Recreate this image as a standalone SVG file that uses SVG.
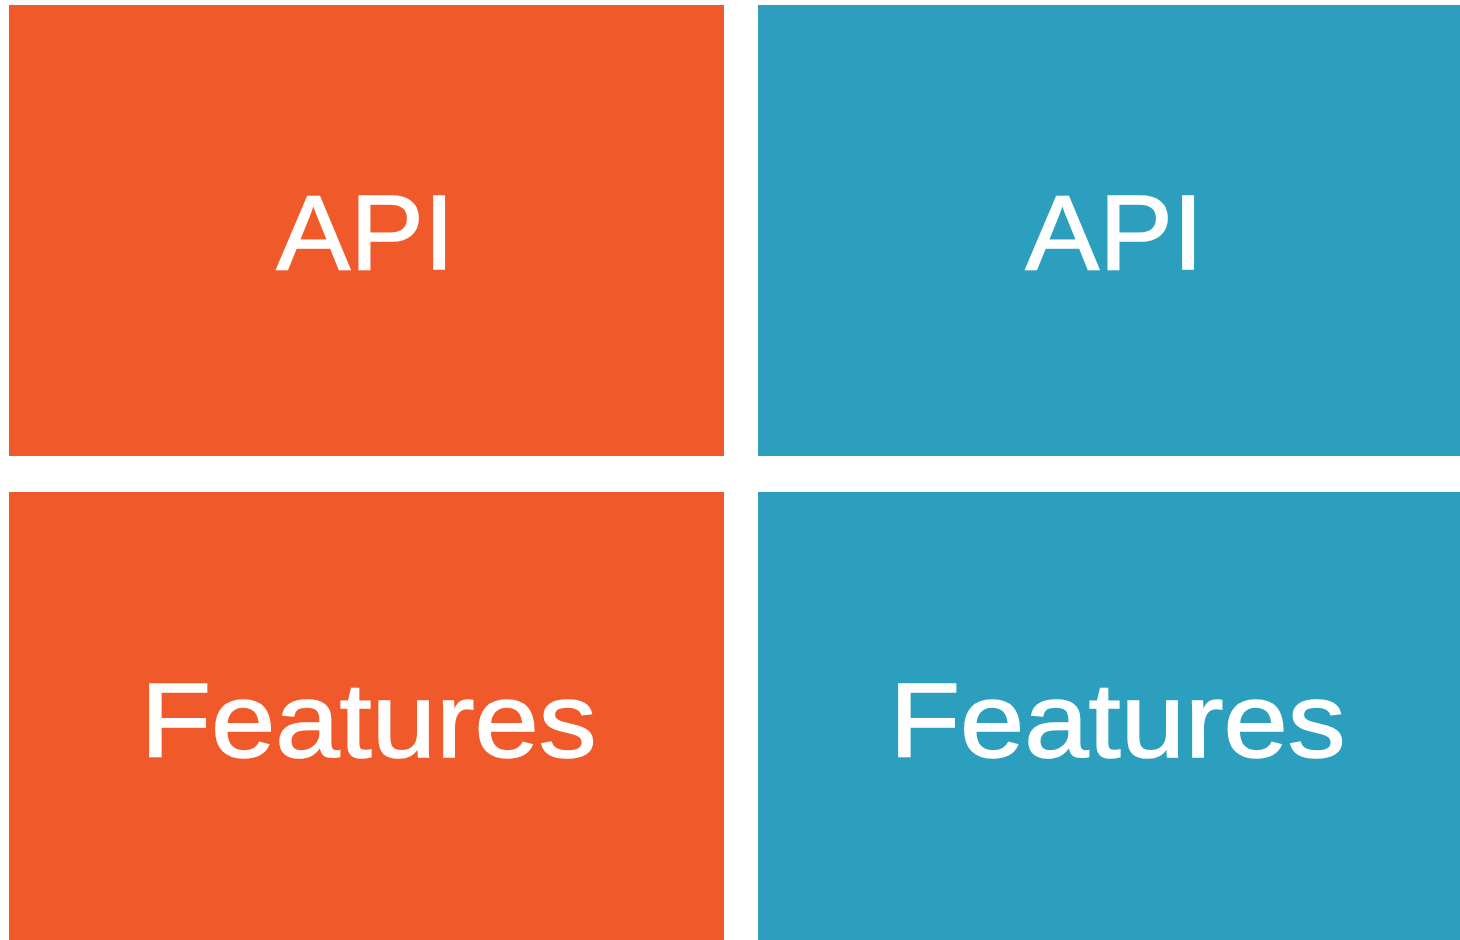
<svg xmlns="http://www.w3.org/2000/svg" width="1460" height="940" viewBox="0 0 1460 940">
<style>
.o{fill:#F05A2A}
.b{fill:#2B9FBD}
.t{fill:#FFFFFF;stroke:#FFFFFF;stroke-width:1.5;font-family:"Liberation Sans",Arial,sans-serif;font-size:105px;text-anchor:middle}
</style>
<rect width="1460" height="940" fill="#FFFFFF"/>
<g id="api-left"><rect class="o" x="9" y="5" width="715" height="451"/><text class="t" x="365.5" y="268.5" textLength="178" lengthAdjust="spacingAndGlyphs">API</text></g>
<g id="api-right"><rect class="b" x="758" y="5" width="702" height="451"/><text class="t" x="1114.5" y="268.5" textLength="178" lengthAdjust="spacingAndGlyphs">API</text></g>
<g id="features-left"><rect class="o" x="9" y="492" width="715" height="448"/><text class="t" x="368.5" y="756.5" textLength="456" lengthAdjust="spacingAndGlyphs">Features</text></g>
<g id="features-right"><rect class="b" x="758" y="492" width="702" height="448"/><text class="t" x="1117.5" y="756.5" textLength="456" lengthAdjust="spacingAndGlyphs">Features</text></g>
<g id="connectors"/>
</svg>
